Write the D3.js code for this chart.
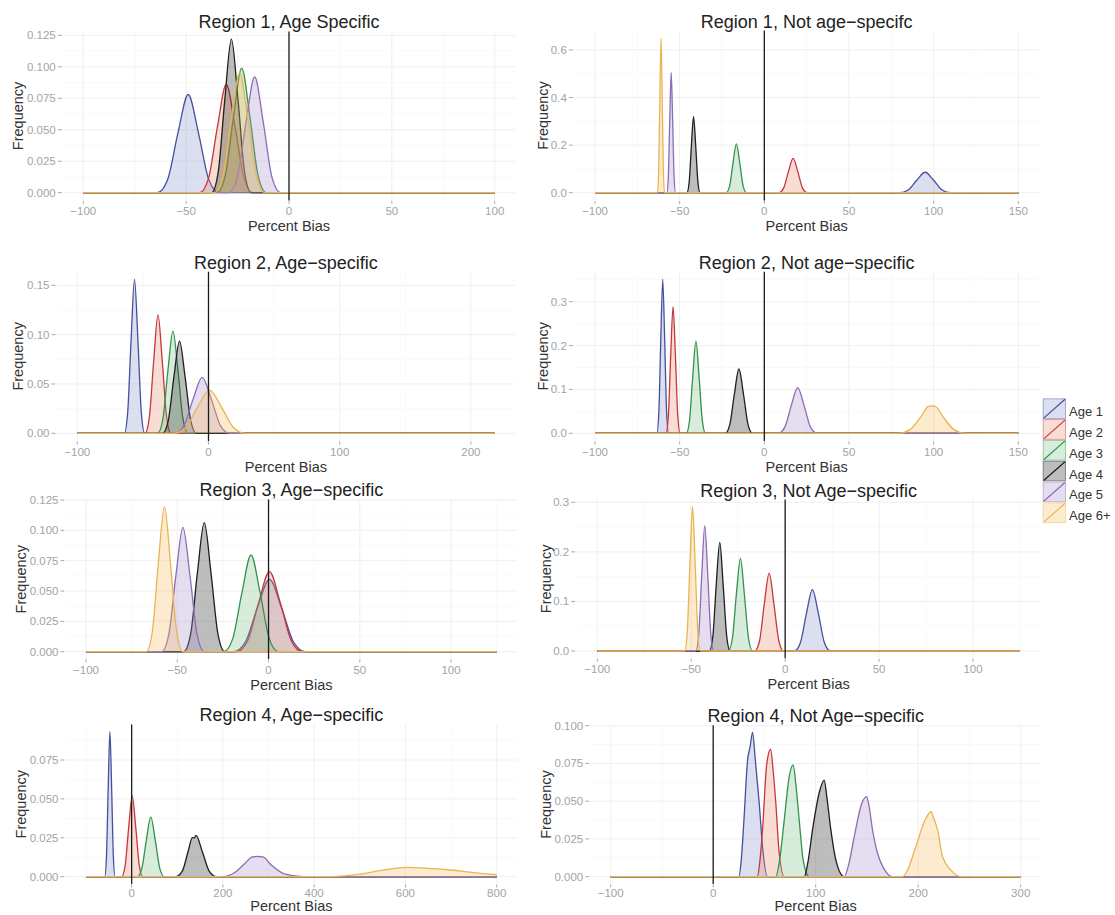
<!DOCTYPE html>
<html><head><meta charset="utf-8">
<script src="https://cdn.jsdelivr.net/npm/d3@7"></script>
<style>body{margin:0;background:#fff}svg{display:block;font-family:"Liberation Sans",Arial,sans-serif}</style>
</head><body><svg id="chart" width="1115" height="915"></svg>
<script>
// ---------- data ----------
const ages = ["Age 1", "Age 2", "Age 3", "Age 4", "Age 5", "Age 6+"];
const lineColors = ["#44509e", "#c8363c", "#33924c", "#1e1e1e", "#8a6db4", "#eab54f"];
const fillColors = ["rgb(138,148,205)", "rgb(228,142,108)", "rgb(125,192,138)", "rgb(35,35,35)", "rgb(168,142,205)", "rgb(245,188,95)"];

const titles = [
  "Region 1, Age Specific", "Region 1, Not age\u2212specifc",
  "Region 2, Age\u2212specific", "Region 2, Not age\u2212specific",
  "Region 3, Age\u2212specific", "Region 3, Not Age\u2212specific",
  "Region 4, Age\u2212specific", "Region 4, Not Age\u2212specific"
];
const xLabel = "Percent Bias";
const yLabel = "Frequency";
const refLine = 0;

// density curves: one list of [percent bias, frequency] points per age group
const r1AgeSpecific = [
  [[-64,0],[-59,0.0105],[-54,0.0473],[-49,0.078],[-44,0.0473],[-39,0.0105],[-34,0]],
  [[-43.4,0],[-39.1,0.0116],[-34.8,0.0522],[-30.5,0.086],[-26.2,0.0522],[-21.9,0.0116],[-17.6,0]],
  [[-35,0],[-31,0.0134],[-27,0.0601],[-23,0.099],[-19,0.0601],[-15,0.0134],[-11,0]],
  [[-37.6,0],[-34.4,0.0165],[-31.2,0.0741],[-28,0.122],[-24.8,0.0741],[-21.6,0.0165],[-18.4,0]],
  [[-29.3,0],[-25.1,0.0124],[-20.9,0.0558],[-16.7,0.092],[-12.5,0.0558],[-8.3,0.0124],[-4.1,0]],
  [[-36.3,0],[-32.2,0.0128],[-28.1,0.0577],[-24,0.095],[-19.9,0.0577],[-15.8,0.0128],[-11.7,0]]
];
const r1NotAgeSpecific = [
  [[80,0],[85,0.0116],[90,0.0522],[95,0.086],[100,0.0522],[105,0.0116],[110,0]],
  [[8.6,0],[11.4,0.0194],[14.2,0.0874],[17,0.144],[19.8,0.0874],[22.6,0.0194],[25.4,0]],
  [[-22.5,0],[-20.5,0.0277],[-18.5,0.1244],[-16.5,0.205],[-14.5,0.1244],[-12.5,0.0277],[-10.5,0]],
  [[-45.7,0],[-44.4,0.0432],[-43.1,0.194],[-41.8,0.32],[-40.5,0.194],[-39.2,0.0432],[-37.9,0]],
  [[-57.6,0],[-56.7,0.0682],[-55.85,0.3065],[-55,0.505],[-54.15,0.3065],[-53.3,0.0682],[-52.4,0]],
  [[-63.1,0],[-62.4,0.0876],[-61.7,0.394],[-61,0.649],[-60.3,0.394],[-59.6,0.0876],[-58.9,0]]
];
const r2AgeSpecific = [
  [[-64.2,0],[-61.6,0.0211],[-59,0.0947],[-56.4,0.156],[-53.8,0.0947],[-51.2,0.0211],[-48.6,0]],
  [[-48.4,0],[-45.1,0.0162],[-41.8,0.0728],[-38.5,0.12],[-35.2,0.0728],[-31.9,0.0162],[-28.6,0]],
  [[-38.7,0],[-34.8,0.014],[-31,0.0628],[-27.1,0.1035],[-23.2,0.0628],[-19.4,0.014],[-15.5,0]],
  [[-35,0],[-30.7,0.0126],[-26.4,0.0567],[-22.1,0.0934],[-17.8,0.0567],[-13.5,0.0126],[-9.2,0]],
  [[-25.8,0],[-18.8,0.0076],[-11.8,0.0344],[-4.8,0.0566],[2.2,0.0344],[9.2,0.0076],[16.2,0]],
  [[-26.5,0],[-17.4,0.0059],[-8.3,0.0266],[0.8,0.0438],[9.9,0.0266],[19,0.0059],[28.1,0]]
];
const r2NotAgeSpecific = [
  [[-63.5,0],[-62.3,0.0474],[-61.15,0.213],[-60,0.351],[-58.85,0.213],[-57.7,0.0474],[-56.5,0]],
  [[-58.1,0],[-56.7,0.039],[-55.3,0.1754],[-53.9,0.289],[-52.5,0.1754],[-51.1,0.039],[-49.7,0]],
  [[-46.1,0],[-44.2,0.0284],[-42.3,0.1275],[-40.4,0.21],[-38.5,0.1275],[-36.6,0.0284],[-34.7,0]],
  [[-23.1,0],[-20.4,0.0198],[-17.7,0.089],[-15,0.1466],[-12.3,0.089],[-9.6,0.0198],[-6.9,0]],
  [[8.3,0],[12.1,0.014],[15.9,0.0631],[19.7,0.104],[23.5,0.0631],[27.3,0.014],[31.1,0]],
  [[79.5,0],[86,0.0084],[92.5,0.0378],[97,0.0612],[99,0.0623],[101.5,0.06],[105.5,0.0378],[112,0.0084],[118.5,0]]
];
const r3AgeSpecific = [
  [[-19.3,0],[-12.7,0.008],[-6.1,0.0362],[0.5,0.0596],[7.1,0.0362],[13.7,0.008],[20.3,0]],
  [[-17.5,0],[-11.5,0.0089],[-5.5,0.0401],[0.5,0.066],[6.5,0.0401],[12.5,0.0089],[18.5,0]],
  [[-24.6,0],[-19.6,0.0108],[-14.6,0.0484],[-9.6,0.0797],[-4.6,0.0484],[0.4,0.0108],[5.4,0]],
  [[-46.5,0],[-42.7,0.0144],[-39,0.0645],[-35.2,0.1063],[-31.5,0.0645],[-27.7,0.0144],[-24,0]],
  [[-58.6,0],[-54.7,0.0138],[-50.8,0.0622],[-46.9,0.1025],[-43,0.0622],[-39.1,0.0138],[-35.2,0]],
  [[-67,0],[-63.7,0.0161],[-60.4,0.0725],[-57,0.1195],[-53.7,0.0725],[-50.3,0.0161],[-47,0]]
];
const r3NotAgeSpecific = [
  [[4.9,0],[8.1,0.0167],[11.3,0.0753],[14.5,0.124],[17.7,0.0753],[20.9,0.0167],[24.1,0]],
  [[-16.2,0],[-13.6,0.0212],[-11.1,0.0953],[-8.5,0.157],[-6,0.0953],[-3.4,0.0212],[-0.9,0]],
  [[-30.3,0],[-28.1,0.0252],[-26,0.1135],[-23.8,0.187],[-21.7,0.1135],[-19.5,0.0252],[-17.4,0]],
  [[-40.4,0],[-38.5,0.0296],[-36.7,0.1329],[-34.8,0.219],[-33,0.1329],[-31.1,0.0296],[-29.3,0]],
  [[-47.6,0],[-46,0.0342],[-44.4,0.1536],[-42.8,0.253],[-41.2,0.1536],[-39.6,0.0342],[-38,0]],
  [[-53.5,0],[-52.1,0.0393],[-50.7,0.1766],[-49.3,0.291],[-47.9,0.1766],[-46.5,0.0393],[-45.1,0]]
];
const r4AgeSpecific = [
  [[-59,0],[-55.2,0.0126],[-51.4,0.0566],[-47.6,0.0932],[-43.8,0.0566],[-40,0.0126],[-36.2,0]],
  [[-22.1,0],[-14.3,0.007],[-6.5,0.0315],[1.3,0.0519],[9.1,0.0315],[16.9,0.007],[24.7,0]],
  [[12.3,0],[22.2,0.0052],[32.1,0.0232],[42,0.0384],[51.9,0.0232],[61.8,0.0052],[71.7,0]],
  [[96,0],[111,0.0036],[124,0.0165],[133,0.0251],[137,0.0249],[141,0.0265],[155,0.016],[170,0.0036],[186,0]],
  [[200,0],[225,0.0025],[248,0.0085],[265,0.0128],[276,0.013],[288,0.0127],[306,0.0075],[335,0.0018],[375,0]],
  [[440,0],[500,0.0016],[550,0.0042],[603,0.006],[650,0.0054],[700,0.0043],[750,0.0026],[800,0.0013]]
];
const r4NotAgeSpecific = [
  [[25,0],[27.5,0.012],[30,0.0375],[33.5,0.077],[36,0.086],[38.4,0.0956],[41,0.078],[44.9,0.0486],[48.1,0.02],[53,0]],
  [[43,0],[45.5,0.01],[48.1,0.031],[52.3,0.075],[56,0.0844],[58.5,0.07],[61.1,0.0486],[64.4,0.0155],[69.3,0]],
  [[61,0],[65,0.012],[69.3,0.0375],[74.1,0.066],[78,0.074],[80.5,0.062],[83.9,0.0375],[87.8,0.011],[93.7,0]],
  [[88.8,0],[92.5,0.01],[96.9,0.031],[104.1,0.0574],[108.3,0.064],[111,0.052],[114.8,0.031],[119.7,0.011],[127.8,0]],
  [[127.8,0],[132.5,0.009],[137.6,0.0265],[145,0.0486],[149.6,0.053],[152,0.047],[155.4,0.031],[160.3,0.0155],[166,0.006],[175,0]],
  [[184.7,0],[190,0.005],[197.7,0.02],[207.5,0.0387],[212.4,0.043],[215,0.039],[218.9,0.031],[223.8,0.0132],[231.9,0.0044],[243,0]]
];

const xDomains = [[-100,100],[-100,150],[-100,218],[-100,150],[-100,125],[-100,125],[-100,800],[-100,300]];
const xTicks = [
  [-100,-50,0,50,100], [-100,-50,0,50,100,150],
  [-100,0,100,200], [-100,-50,0,50,100,150],
  [-100,-50,0,50,100], [-100,-50,0,50,100],
  [0,200,400,600,800], [-100,0,100,200,300]
];
const yTicks = [
  [0,0.025,0.05,0.075,0.1,0.125], [0,0.2,0.4,0.6],
  [0,0.05,0.1,0.15], [0,0.1,0.2,0.3],
  [0,0.025,0.05,0.075,0.1,0.125], [0,0.1,0.2,0.3],
  [0,0.025,0.05,0.075], [0,0.025,0.05,0.075,0.1]
];
const yFormats = [".3f",".1f",".2f",".1f",".3f",".1f",".3f",".3f"];

// ---------- layout ----------
const curveSets = [r1AgeSpecific, r1NotAgeSpecific, r2AgeSpecific, r2NotAgeSpecific,
                   r3AgeSpecific, r3NotAgeSpecific, r4AgeSpecific, r4NotAgeSpecific];
const layout = [
  {xr:[83.3,494.7],  y0:192.7, yT:35.3,  fx:17.5,  tl:15, at:31},
  {xr:[595,1018.3],  y0:192.7, yT:49.9,  fx:542.5, tl:15, at:31},
  {xr:[77.3,494.5],  y0:433.3, yT:285.3, fx:17.5,  tl:15, at:31},
  {xr:[595,1018.3],  y0:433.3, yT:301.7, fx:542.5, tl:15, at:31},
  {xr:[86,496.7],    y0:651.7, yT:500,   fx:20.5,  tl:15, at:31},
  {xr:[597.3,1020],  y0:651,   yT:502.3, fx:545.5, tl:15, at:31},
  {xr:[86,496.7],    y0:876.7, yT:760,   fx:20.5,  tl:13, at:27.5},
  {xr:[610.7,1020.7],y0:876.7, yT:725.7, fx:545.5, tl:13, at:27.5}
];

const svg = d3.select("#chart");

curveSets.forEach((curves, i) => {
  const L = layout[i];
  const dom = xDomains[i];
  const x = d3.scaleLinear().domain(dom).range(L.xr);
  const yt = yTicks[i];
  const y = d3.scaleLinear().domain([0, yt[yt.length-1]]).range([L.y0, L.yT]);
  const maxY = d3.max(curves, c => d3.max(c, p => p[1]));
  const top = y(maxY * 1.05), bottom = y(-maxY * 0.05);
  const span = dom[1] - dom[0];
  const left = x(dom[0] - 0.05 * span), right = x(dom[1] + 0.05 * span);
  const g = svg.append("g");

  // grid (minor + major)
  const xt = xTicks[i];
  const xStep = xt[1] - xt[0];
  const xMinor = [];
  for (let v = xt[0] - xStep/2; v <= dom[1] + 0.05*span; v += xStep) {
    if (x(v) >= left && x(v) <= right) xMinor.push(v);
  }
  const yStep = yt[1] - yt[0];
  const yMinor = [];
  for (let v = yt[0] - yStep/2; y(v) >= top; v += yStep) {
    if (y(v) <= bottom) yMinor.push(v);
  }
  g.selectAll(".xmin").data(xMinor).join("line")
    .attr("x1", d => x(d)).attr("x2", d => x(d)).attr("y1", top).attr("y2", bottom)
    .attr("stroke", "#f7f7f7").attr("stroke-width", 0.8);
  g.selectAll(".ymin").data(yMinor).join("line")
    .attr("x1", left).attr("x2", right).attr("y1", d => y(d)).attr("y2", d => y(d))
    .attr("stroke", "#f7f7f7").attr("stroke-width", 0.8);
  g.selectAll(".xmaj").data(xt).join("line")
    .attr("x1", d => x(d)).attr("x2", d => x(d)).attr("y1", top).attr("y2", bottom)
    .attr("stroke", "#efefef").attr("stroke-width", 1);
  g.selectAll(".ymaj").data(yt).join("line")
    .attr("x1", left).attr("x2", right).attr("y1", d => y(d)).attr("y2", d => y(d))
    .attr("stroke", "#efefef").attr("stroke-width", 1);

  // density curves
  const area = d3.area().x(d => x(d[0])).y0(y(0)).y1(d => y(d[1])).curve(d3.curveMonotoneX);
  const line = d3.line().x(d => x(d[0])).y(d => y(d[1])).curve(d3.curveMonotoneX);
  curves.forEach((pts, k) => {
    const full = [];
    if (pts[0][0] > dom[0]) full.push([dom[0], 0]);
    pts.forEach(p => full.push(p));
    if (pts[pts.length-1][0] < dom[1]) full.push([dom[1], 0]);
    g.append("path").attr("d", area(full)).attr("fill", fillColors[k]).attr("fill-opacity", 0.3);
    g.append("path").attr("d", line(full)).attr("fill", "none")
      .attr("stroke", lineColors[k]).attr("stroke-width", 1.3).attr("stroke-linejoin", "round");
  });

  // reference line at 0
  g.append("line").attr("x1", x(refLine)).attr("x2", x(refLine)).attr("y1", top).attr("y2", bottom)
    .attr("stroke", "#1a1a1a").attr("stroke-width", 1.3);

  // y axis ticks and labels
  const fmt = d3.format(yFormats[i]);
  g.selectAll(".yt").data(yt).join("line")
    .attr("x1", left - 5).attr("x2", left - 1).attr("y1", d => y(d)).attr("y2", d => y(d))
    .attr("stroke", "#a8a8a8").attr("stroke-width", 1);
  g.selectAll(".yl").data(yt).join("text")
    .attr("x", left - 7).attr("y", d => y(d)).attr("dy", "0.35em")
    .attr("text-anchor", "end").attr("font-size", 11.5).attr("fill", "#a3a3a3")
    .text(d => fmt(d));
  // x axis ticks and labels
  const xf = d3.format("d");
  g.selectAll(".xtk").data(xt).join("line")
    .attr("x1", d => x(d)).attr("x2", d => x(d)).attr("y1", bottom + 0.5).attr("y2", bottom + 3.5)
    .attr("stroke", "#a8a8a8").attr("stroke-width", 1);
  g.selectAll(".xl").data(xt).join("text")
    .attr("x", d => x(d)).attr("y", bottom + L.tl)
    .attr("text-anchor", "middle").attr("font-size", 11.5).attr("fill", "#a3a3a3")
    .text(d => xf(d));

  // titles
  const cx = (left + right) / 2;
  g.append("text").attr("x", cx).attr("y", top - 3).attr("text-anchor", "middle")
    .attr("font-size", 18).attr("fill", "#222").text(titles[i]);
  g.append("text").attr("x", cx).attr("y", bottom + L.at).attr("text-anchor", "middle")
    .attr("font-size", 14.5).attr("fill", "#333").text(xLabel);
  g.append("text").attr("transform", `translate(${L.fx},${(top + bottom) / 2}) rotate(-90)`)
    .attr("dy", "0.35em").attr("text-anchor", "middle")
    .attr("font-size", 14.5).attr("fill", "#333").text(yLabel);
});

// ---------- legend ----------
const lg = svg.append("g");
const keyX = 1042.7, keyY = 398.3, keyW = 23.3, keyH = 20.8;
ages.forEach((a, k) => {
  const ky = keyY + k * keyH;
  lg.append("rect").attr("x", keyX).attr("y", ky).attr("width", keyW).attr("height", keyH)
    .attr("fill", "#fff");
  lg.append("rect").attr("x", keyX + 0.5).attr("y", ky + 0.5).attr("width", keyW - 1).attr("height", keyH - 1)
    .attr("fill", fillColors[k]).attr("fill-opacity", 0.3)
    .attr("stroke", lineColors[k]).attr("stroke-opacity", 0.45).attr("stroke-width", 1);
  lg.append("line").attr("x1", keyX + 1).attr("y1", ky + keyH - 1).attr("x2", keyX + keyW - 1).attr("y2", ky + 1)
    .attr("stroke", lineColors[k]).attr("stroke-width", 1.2);
  lg.append("text").attr("x", keyX + keyW + 3).attr("y", ky + keyH / 2 + 3).attr("dy", "0.35em")
    .attr("font-size", 13).attr("fill", "#333").text(a);
});
</script></body></html>
